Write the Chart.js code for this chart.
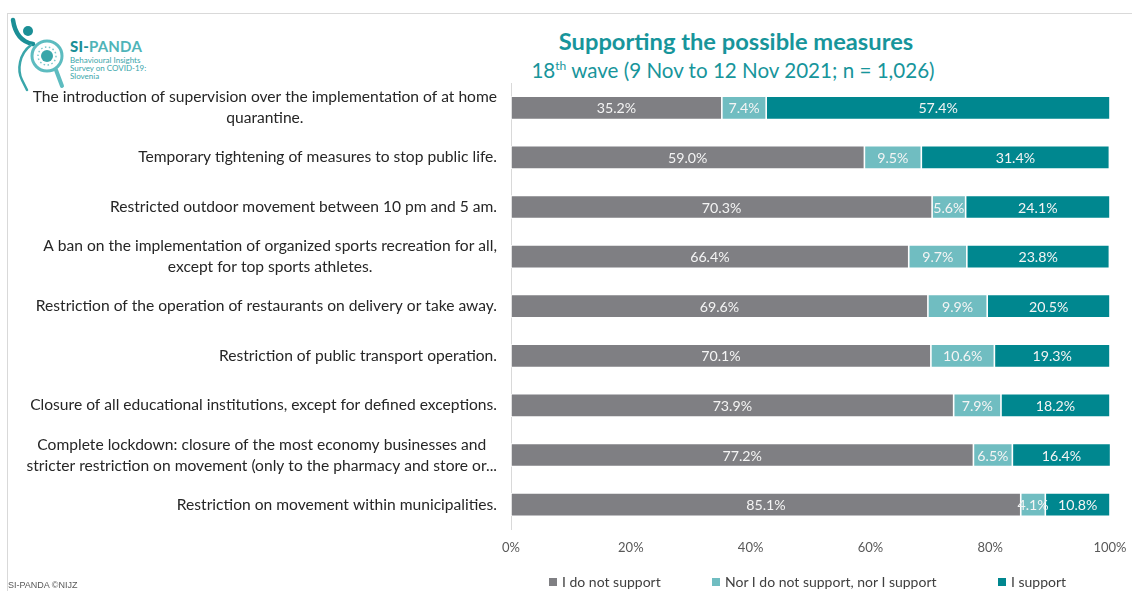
<!DOCTYPE html>
<html>
<head>
<meta charset="utf-8">
<script src="https://cdn.jsdelivr.net/npm/chart.js@4.4.1/dist/chart.umd.min.js"></script>
<style>
  html, body { margin: 0; padding: 0; background: #fff; }
  body { width: 1132px; height: 591px; position: relative; overflow: hidden; font-family: Lato, "Open Sans", sans-serif; }
  .frame { position: absolute; left: 7px; top: 13px; right: 0; bottom: 0; border-top: 1px solid #d9d9d9; border-left: 1px solid #d9d9d9; }
  #wrap { position: absolute; left: 0; top: 0; width: 1132px; height: 591px; }
  .title { position: absolute; left: 340px; width: 792px; text-align: center; color: #17959b; }
  .title.main { top: 27px; font-size: 23.7px; font-weight: bold; }
  .title.sub { top: 58px; font-size: 20.6px; left: 337px; }
  .title sup { font-size: 12px; vertical-align: 8px; line-height: 0; }
  .logo { position: absolute; left: 0; top: 0; }
  .logo-name { position: absolute; left: 70px; top: 37px; font-size: 15px; font-weight: bold; color: #4fb4b8; letter-spacing: 0.2px; }
  .logo-name b { color: #1b8f96; }
  .logo-sub { position: absolute; left: 70px; top: 56px; font-size: 8px; line-height: 8px; color: #3aa6aa; }
  .legend { position: absolute; top: 573px; left: 0; width: 1132px; height: 18px; font-size: 14px; color: #404040; }
  .legend span { position: absolute; top: 0; display: flex; align-items: center; white-space: nowrap; }
  .legend i { display: inline-block; width: 8px; height: 8px; margin-right: 5px; }
  .footer { position: absolute; left: 8px; top: 580px; font-size: 9px; color: #595959; font-family: "Liberation Sans Narrow", "Liberation Sans", sans-serif; }
</style>
</head>
<body>
<div class="frame"></div>
<svg class="logo" width="90" height="100" viewBox="0 0 90 100">
  <path d="M13 20 C15 34 22 42 33 44" stroke="#1b8f96" stroke-width="4.5" fill="none" stroke-linecap="round"/>
  <circle cx="28" cy="31" r="5" fill="#1b8f96"/>
  <path d="M31 45 C19 54 17 70 22 80 L27 90" stroke="#3aa6aa" stroke-width="2.5" fill="none" stroke-linecap="round"/>
  <circle cx="47" cy="56" r="15" stroke="#5dbcc0" stroke-width="3" fill="#fff"/>
  <circle cx="47" cy="56" r="6" fill="#3aa6aa"/>
  <circle cx="47" cy="56" r="9" stroke="#7cc8cb" stroke-width="1.5" stroke-dasharray="1.5 2.5" fill="none"/>
  <path d="M56 70 L62 86" stroke="#5dbcc0" stroke-width="4" stroke-linecap="round"/>
</svg>
<div class="logo-name"><b>SI-</b>PANDA</div>
<div class="logo-sub">Behavioural Insights<br>Survey on COVID-19:<br>Slovenia</div>
<div class="title main">Supporting the possible measures</div>
<div class="title sub">18<sup>th</sup> wave (9 Nov to 12 Nov 2021; n = 1,026)</div>
<div id="wrap"><canvas id="chart"></canvas></div>
<div class="legend">
  <span style="left:549px"><i style="background:#7f7f83"></i>I do not support</span>
  <span style="left:712px"><i style="background:#70bdc1"></i>Nor I do not support, nor I support</span>
  <span style="left:998px"><i style="background:#00878f"></i>I support</span>
</div>
<div class="footer">SI-PANDA ©NIJZ</div>

<script>
// Measures, top to bottom
const measures = [
    ["The introduction of supervision over the implementation of at home", "quarantine."],
    ["Temporary tightening of measures to stop public life."],
    ["Restricted outdoor movement between 10 pm and 5 am."],
    ["A ban on the implementation of organized sports recreation for all,", "except for top sports athletes."],
    ["Restriction of the operation of restaurants on delivery or take away."],
    ["Restriction of public transport operation."],
    ["Closure of all educational institutions, except for defined exceptions."],
    ["Complete lockdown: closure of the most economy businesses and", "stricter restriction on movement (only to the pharmacy and store or..."],
    ["Restriction on movement within municipalities."]
];

// Shares in percent
const notSupport = [35.2, 59.0, 70.3, 66.4, 69.6, 70.1, 73.9, 77.2, 85.1];
const neutral = [7.4, 9.5, 5.6, 9.7, 9.9, 10.6, 7.9, 6.5, 4.1];
const support = [57.4, 31.4, 24.1, 23.8, 20.5, 19.3, 18.2, 16.4, 10.8];

const xTicks = [0, 20, 40, 60, 80, 100];

const FONT = "Lato, 'Open Sans', sans-serif";

// Writes the value in the middle of each bar segment
const valueLabels = {
    id: "valueLabels",
    afterDatasetsDraw(chart) {
        const ctx = chart.ctx;
        ctx.save();
        ctx.font = "14.2px " + FONT;
        ctx.fillStyle = "#f4f4f4";
        ctx.textAlign = "center";
        ctx.textBaseline = "middle";
        chart.data.datasets.forEach((ds, di) => {
            chart.getDatasetMeta(di).data.forEach((bar, i) => {
                const cx = (bar.x + bar.base) / 2;
                ctx.fillText(ds.data[i].toFixed(1) + "%", cx, bar.y + 1);
            });
        });
        ctx.restore();
    }
};

// Category names: right-aligned block, lines centred within it
const measureLabels = {
    id: "measureLabels",
    afterDraw(chart) {
        const ctx = chart.ctx;
        const yScale = chart.scales.y;
        const right = chart.chartArea.left - 14;
        const lineH = 21;
        ctx.save();
        ctx.font = "15.6px " + FONT;
        ctx.fillStyle = "#262626";
        ctx.textAlign = "center";
        ctx.textBaseline = "middle";
        measures.forEach((lines, i) => {
            const y = yScale.getPixelForValue(i);
            const widest = Math.max(...lines.map(l => ctx.measureText(l).width));
            const cx = right - widest / 2;
            const top = y - (lines.length - 1) * lineH / 2;
            lines.forEach((l, k) => ctx.fillText(l, cx, top + k * lineH));
        });
        ctx.restore();
    }
};

const ctx = document.getElementById("chart").getContext("2d");

new Chart(ctx, {
    type: "bar",
    data: {
        labels: measures.map(l => l.join(" ")),
        datasets: [
            { label: "I do not support", data: notSupport, backgroundColor: "#7f7f83" },
            { label: "Nor I do not support, nor I support", data: neutral, backgroundColor: "#70bdc1" },
            { label: "I support", data: support, backgroundColor: "#00878f" }
        ]
    },
    options: {
        indexAxis: "y",
        responsive: true,
        maintainAspectRatio: false,
        animation: false,
        datasets: {
            bar: {
                categoryPercentage: 1,
                barPercentage: 0.47,
                borderColor: "#ffffff",
                borderWidth: 0.8,
                borderSkipped: false
            }
        },
        layout: {
            padding: { left: 511, right: 22, top: 83, bottom: 24 }
        },
        scales: {
            x: {
                stacked: true,
                min: 0,
                max: 100,
                afterBuildTicks: (scale) => { scale.ticks = xTicks.map(v => ({ value: v })); },
                afterFit: (scale) => { scale.paddingLeft = 0; scale.paddingRight = 0; },
                ticks: {
                    callback: (v) => v + "%",
                    color: "#595959",
                    font: { family: FONT, size: 13 },
                    padding: 11,
                    maxRotation: 0
                },
                grid: { display: false, drawTicks: false },
                border: { display: false }
            },
            y: {
                stacked: true,
                ticks: { display: false },
                grid: { display: false, drawTicks: false },
                border: { display: true, color: "#d9d9d9", width: 1 }
            }
        },
        plugins: {
            legend: { display: false },
            tooltip: { enabled: false }
        }
    },
    plugins: [valueLabels, measureLabels]
});
</script>
</body>
</html>
